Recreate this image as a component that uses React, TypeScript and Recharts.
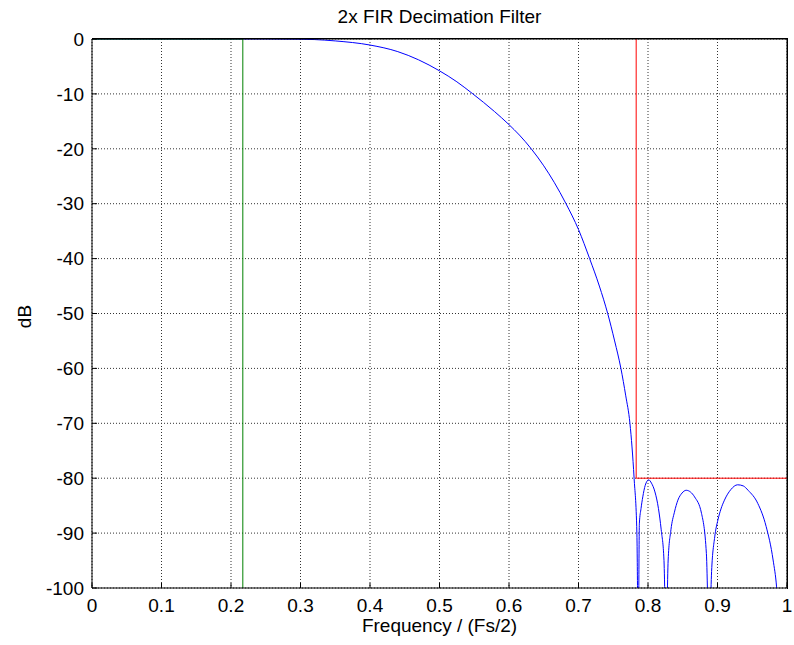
import { LineChart, Line, XAxis, YAxis, CartesianGrid } from 'recharts';

// normalised frequency (x Fs/2) and magnitude in dB
const freq = [
  0, 0.05, 0.1, 0.15, 0.2, 0.25, 0.3, 0.32, 0.35, 0.4, 0.44, 0.47, 0.5, 0.525, 0.548, 0.579, 0.6,
  0.615, 0.632, 0.65, 0.665, 0.682, 0.7, 0.716, 0.73, 0.742, 0.752, 0.761, 0.768, 0.774, 0.78, 0.784, 0.786,
  0.7876, 0.79, 0.7925, 0.796, 0.801, 0.805, 0.81, 0.815, 0.819, 0.823, 0.826,
  0.829, 0.833, 0.838, 0.843, 0.849, 0.855, 0.861, 0.867, 0.877, 0.884, 0.888,
  0.8915, 0.896, 0.9006, 0.905, 0.91, 0.919, 0.929, 0.937, 0.944, 0.958, 0.97, 0.98, 0.985, 0.99,
];
const magDb = [
  0, 0, 0, 0, 0, 0, -0.05, -0.1, -0.35, -1.1, -2.3, -3.8, -5.8, -7.8, -10, -13.2, -15.6,
  -17.5, -20, -23.1, -26.1, -30, -34.7, -40, -45, -50, -55, -60, -65, -70, -80, -90, -110,
  -88.2, -85.5, -83.4, -81.3, -80.3, -80.9, -82.5, -85.5, -89.4, -95, -110,
  -94.9, -89.4, -86.2, -84, -82.7, -82.2, -82.5, -83.4, -86.4, -93.7, -110,
  -97, -90.7, -87.6, -85.6, -84, -82.1, -81.2, -81.4, -82.2, -84.6, -88.8, -94.9, -99.8, -110,
];

// passband mask (green) and stopband mask (red)
const passX = [0, 0.217, 0.217];
const passY = [0, 0, -100];
const stopX = [0.783, 0.783, 1];
const stopY = [0, -80, -80];

const xTicks = [0, 0.1, 0.2, 0.3, 0.4, 0.5, 0.6, 0.7, 0.8, 0.9, 1];
const yTicks = [-100, -90, -80, -70, -60, -50, -40, -30, -20, -10, 0];

const response = freq.map((f, i) => ({ x: f, y: magDb[i] }));
const passMask = passX.map((f, i) => ({ x: f, y: passY[i] }));
const stopMask = stopX.map((f, i) => ({ x: f, y: stopY[i] }));

const font = 'Liberation Sans, Arial, sans-serif';
const tickStyle = { fill: '#000', fontSize: 19, fontFamily: font };

export default function App() {
  return (
    <div style={{ position: 'absolute', left: 0, top: 0, width: 794, height: 645, background: '#fff', fontFamily: font }}>
      <LineChart width={794} height={645} margin={{ top: 38, right: 6, bottom: 27, left: 32 }}>
        <CartesianGrid stroke="#333" strokeDasharray="1 2" />
        <XAxis
          dataKey="x"
          type="number"
          domain={[0, 1]}
          ticks={xTicks}
          tick={tickStyle}
          height={30}
          tickSize={-5}
          tickMargin={16}
          stroke="#000"
          allowDataOverflow
        />
        <XAxis
          xAxisId="top"
          dataKey="x"
          orientation="top"
          type="number"
          domain={[0, 1]}
          ticks={xTicks}
          tick={false}
          height={1}
          tickSize={-5}
          stroke="#000"
          allowDataOverflow
        />
        <YAxis
          type="number"
          domain={[-100, 0]}
          ticks={yTicks}
          tick={tickStyle}
          width={60}
          tickSize={-5}
          tickMargin={13}
          stroke="#000"
          allowDataOverflow
        />
        <YAxis
          yAxisId="right"
          orientation="right"
          type="number"
          domain={[-100, 0]}
          ticks={yTicks}
          tick={false}
          width={1}
          tickSize={-5}
          stroke="#000"
          allowDataOverflow
        />
        <Line data={response} dataKey="y" type="monotone" stroke="#0000ff" strokeWidth={1} dot={false} isAnimationActive={false} />
        <Line data={passMask} dataKey="y" xAxisId="top" type="linear" stroke="#008000" strokeWidth={1} dot={false} isAnimationActive={false} />
        <Line data={stopMask} dataKey="y" yAxisId="right" type="linear" stroke="#ff0000" strokeWidth={1} dot={false} isAnimationActive={false} />
      </LineChart>
      {/* box edges on the top and right of the plot area */}
      <div
        style={{
          position: 'absolute',
          left: 92,
          top: 38,
          width: 695,
          height: 550,
          borderTop: '1px solid #000',
          borderRight: '1px solid #000',
          pointerEvents: 'none',
        }}
      />
      <div style={{ position: 'absolute', left: 92, width: 695, top: 7, textAlign: 'center', fontSize: 19, lineHeight: '19px' }}>
        2x FIR Decimation Filter
      </div>
      <div style={{ position: 'absolute', left: 92, width: 695, top: 616, textAlign: 'center', fontSize: 19, lineHeight: '19px' }}>
        Frequency / (Fs/2)
      </div>
      <div
        style={{
          position: 'absolute',
          left: 24 - 50,
          top: 316 - 9.5,
          width: 100,
          textAlign: 'center',
          fontSize: 19,
          lineHeight: '19px',
          transform: 'rotate(-90deg)',
        }}
      >
        dB
      </div>
    </div>
  );
}
